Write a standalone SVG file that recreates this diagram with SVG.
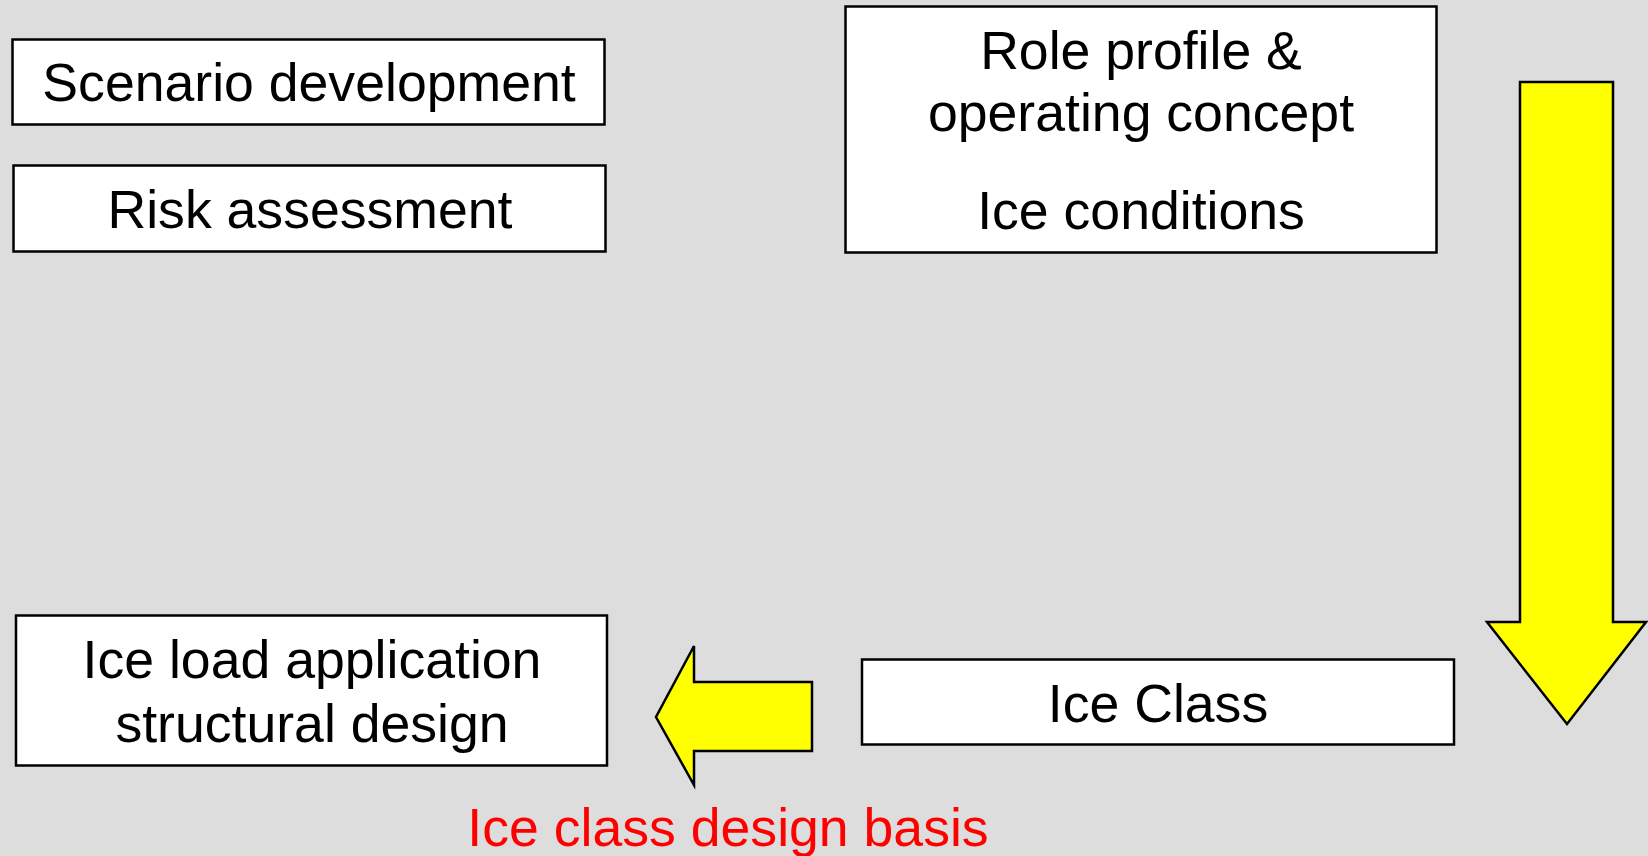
<svg xmlns="http://www.w3.org/2000/svg" width="1648" height="856" viewBox="0 0 1648 856">
<style>
.box{fill:#ffffff;stroke:#000000;stroke-width:2.5}
.arr{fill:#ffff00;stroke:#000000;stroke-width:2.5;stroke-linejoin:miter}
.t{font-family:"Liberation Sans",Arial,sans-serif;font-size:53.6px;fill:#000000;text-anchor:middle}
.red{fill:#ff0000}
</style>
<rect x="0" y="0" width="1648" height="856" fill="#dddddd"/>
<g id="scenario">
<rect class="box" x="12.5" y="39.5" width="592" height="85"/>
<text class="t" x="309" y="101">Scenario development</text>
</g>
<g id="risk">
<rect class="box" x="13.5" y="165.5" width="592" height="86"/>
<text class="t" x="310" y="228">Risk assessment</text>
</g>
<g id="role">
<rect class="box" x="845.5" y="6.5" width="591" height="246"/>
<text class="t" x="1141" y="69">Role profile &amp;</text>
<text class="t" x="1141" y="131">operating concept</text>
<text class="t" x="1141" y="229">Ice conditions</text>
</g>
<g id="iceload">
<rect class="box" x="16" y="615.5" width="591" height="150"/>
<text class="t" x="312" y="678">Ice load application</text>
<text class="t" x="312" y="742">structural design</text>
</g>
<g id="iceclass">
<rect class="box" x="862" y="659.5" width="592" height="85"/>
<text class="t" x="1158" y="722">Ice Class</text>
</g>
<g id="connectors">
<polygon class="arr" points="1520,82 1613,82 1613,622 1646,622 1567,724 1487,622 1520,622"/>
<polygon class="arr" points="812,682 812,751 694,751 694,785 656,717 694,646 694,682"/>
</g>
<text class="t red" x="728" y="846">Ice class design basis</text>
</svg>
